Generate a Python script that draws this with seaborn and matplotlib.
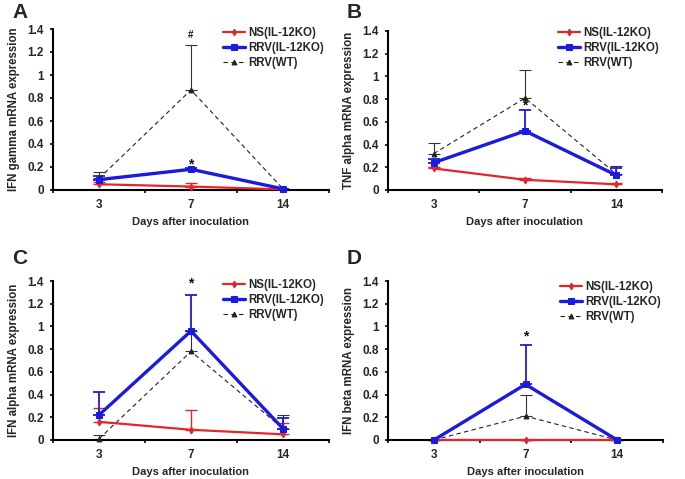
import numpy as np
import pandas as pd
import matplotlib
matplotlib.use("Agg")
import matplotlib.pyplot as plt
import seaborn as sns

# ---------------- data ----------------
days = ["3", "7", "14"]
series = ["NS(IL-12KO)", "RRV(IL-12KO)", "RRV(WT)"]
yticks = [0, 0.2, 0.4, 0.6, 0.8, 1.0, 1.2, 1.4]
ytick_labels = ["0", "0.2", "0.4", "0.6", "0.8", "1", "1.2", "1.4"]

panel_letters = ["A", "B", "C", "D"]
ylabels = ["IFN gamma mRNA expression", "TNF alpha mRNA expression",
           "IFN alpha mRNA expression", "IFN beta mRNA expression"]

# means
A_ns = [0.05, 0.03, 0.005]
A_ko = [0.09, 0.18, 0.01]
A_wt = [0.10, 0.87, 0.01]
B_ns = [0.19, 0.09, 0.05]
B_ko = [0.24, 0.52, 0.13]
B_wt = [0.32, 0.81, 0.14]
C_ns = [0.16, 0.09, 0.05]
C_ko = [0.22, 0.96, 0.10]
C_wt = [0.01, 0.78, 0.10]
D_ns = [0.0, 0.0, 0.0]
D_ko = [0.0, 0.49, 0.0]
D_wt = [0.0, 0.21, 0.0]

# upper error (SD)
A_ns_err = [0.02, 0.03, 0.0]
A_ko_err = [0.03, 0.01, 0.0]
A_wt_err = [0.06, 0.39, 0.0]
B_ns_err = [0.01, 0.02, 0.01]
B_ko_err = [0.03, 0.18, 0.06]
B_wt_err = [0.09, 0.25, 0.07]
C_ns_err = [0.12, 0.17, 0.10]
C_ko_err = [0.20, 0.32, 0.09]
C_wt_err = [0.03, 0.18, 0.12]
D_ns_err = [0.0, 0.0, 0.0]
D_ko_err = [0.0, 0.35, 0.0]
D_wt_err = [0.0, 0.19, 0.0]

# significance marks: (symbol, day index, y)
A_marks = [("#", 1, 1.35), ("*", 1, 0.225)]
B_marks = [("*", 1, 0.745)]
C_marks = [("*", 1, 1.38)]
D_marks = [("*", 1, 0.91)]

panels = [
    (A_ns, A_ko, A_wt, A_ns_err, A_ko_err, A_wt_err, A_marks),
    (B_ns, B_ko, B_wt, B_ns_err, B_ko_err, B_wt_err, B_marks),
    (C_ns, C_ko, C_wt, C_ns_err, C_ko_err, C_wt_err, C_marks),
    (D_ns, D_ko, D_wt, D_ns_err, D_ko_err, D_wt_err, D_marks),
]

# ---------------- style ----------------
sns.set_style("ticks")
plt.rcParams["font.family"] = ["Liberation Sans", "DejaVu Sans"]
plt.rcParams["font.weight"] = "bold"

colors = {"NS(IL-12KO)": "#e3262a", "RRV(IL-12KO)": "#1b1be0", "RRV(WT)": "#222222"}
lws = {"NS(IL-12KO)": 1.6, "RRV(IL-12KO)": 2.4, "RRV(WT)": 0.8}
mk = {"NS(IL-12KO)": "d", "RRV(IL-12KO)": "s", "RRV(WT)": "^"}
ms = {"NS(IL-12KO)": 3.5, "RRV(IL-12KO)": 4.5, "RRV(WT)": 3.5}
ls = {"NS(IL-12KO)": "-", "RRV(IL-12KO)": "-", "RRV(WT)": (0, (4, 3))}
elw = {"NS(IL-12KO)": 1.0, "RRV(IL-12KO)": 1.3, "RRV(WT)": 0.8}
ecol = {"NS(IL-12KO)": "#e3262a", "RRV(IL-12KO)": "#1b1be0", "RRV(WT)": "#333333"}

fig = plt.figure(figsize=(6.85, 4.79), dpi=100)
W, H = 685, 479
boxes = [(53, 29, 329, 190), (388, 31, 662, 190),
         (53, 281, 329, 440), (388, 281, 663, 440)]
legend_xy = [(223, 27), (558, 27), (223, 279), (560, 281)]
letter_pos = [(12, 13), (347, 13), (12, 258), (347, 258)]

order = ["RRV(WT)", "NS(IL-12KO)", "RRV(IL-12KO)"]
for i, (ns, ko, wt, nse, koe, wte, marks) in enumerate(panels):
    l, t, r, b = boxes[i]
    ax = fig.add_axes([l / W, 1 - b / H, (r - l) / W, (b - t) / H])
    vals = {"NS(IL-12KO)": (ns, nse), "RRV(IL-12KO)": (ko, koe), "RRV(WT)": (wt, wte)}
    df = pd.DataFrame({
        "day": np.tile(np.arange(len(days)), len(series)),
        "value": np.concatenate([vals[s][0] for s in series]),
        "err": np.concatenate([vals[s][1] for s in series]),
        "series": np.repeat(series, len(days)),
    })
    handles = {}
    for s in order:
        d = df[df["series"] == s]
        ax.errorbar(d["day"], d["value"], yerr=[np.zeros(len(d)), d["err"]],
                    fmt="none", ecolor=ecol[s], elinewidth=elw[s], capsize=4.5,
                    capthick=elw[s], zorder=2, clip_on=False)
        sns.lineplot(data=d, x="day", y="value", ax=ax, color=colors[s],
                     linewidth=lws[s], marker=mk[s], markersize=ms[s],
                     markeredgecolor=colors[s], linestyle=ls[s], zorder=3,
                     clip_on=False, legend=False)
        handles[s] = ax.lines[-1]
    for sym, xi, yv in marks:
        ax.text(xi, yv, sym, ha="center", va="center",
                fontsize=7 if sym == "#" else 10, fontweight="bold", color="#111111")
    ax.set_xlim(-0.5, len(days) - 0.5)
    ax.set_ylim(0, 1.4)
    ax.set_xticks(range(len(days)))
    ax.set_xticklabels(days, fontsize=8.5, fontweight="bold")
    ax.set_xticks(np.arange(-0.5, len(days)), minor=True)
    ax.tick_params(axis="x", which="major", length=0, pad=6.5)
    ax.tick_params(axis="x", which="minor", length=2.5, width=1.2, direction="out", color="black")
    ax.set_yticks(yticks)
    ax.set_yticklabels(ytick_labels, fontsize=8.5, fontweight="bold")
    ax.tick_params(axis="y", length=2.5, width=1.2, direction="out", color="black", pad=4)
    for sp in ["top", "right"]:
        ax.spines[sp].set_visible(False)
    for sp in ["left", "bottom"]:
        ax.spines[sp].set_linewidth(1.5)
        ax.spines[sp].set_color("black")
    ax.set_xlabel("Days after inoculation", fontsize=8, fontweight="bold", labelpad=4)
    ax.set_ylabel(ylabels[i], fontsize=8.3, fontweight="bold", labelpad=5.5)
    lxp, lyp = legend_xy[i]
    ax.legend([handles[s] for s in series], series, loc="upper left",
              bbox_to_anchor=((lxp - l) / (r - l), (b - lyp) / (b - t)),
              frameon=False, prop={"weight": "bold", "size": 8.3},
              handlelength=1.9, handletextpad=0.25, labelspacing=0.25,
              borderaxespad=0, borderpad=0)
    lx, ly = letter_pos[i]
    fig.text(lx / W, 1 - ly / H, panel_letters[i], fontsize=15, fontweight="bold",
             ha="left", va="center")

fig.savefig("out.png", dpi=100, facecolor="white")
